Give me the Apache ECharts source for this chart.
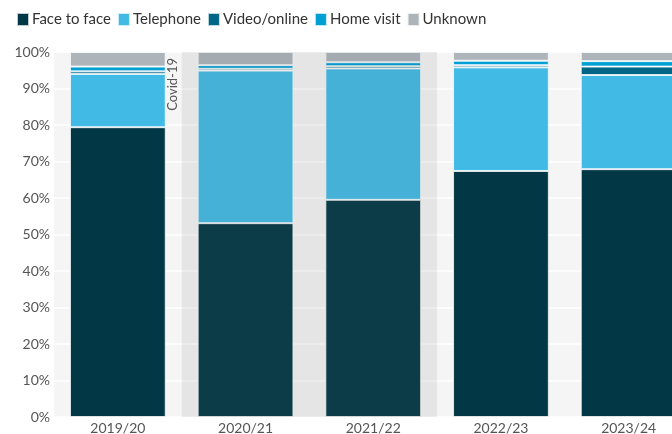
<!DOCTYPE html>
<html><head><meta charset="utf-8">
<script src="https://cdn.jsdelivr.net/npm/echarts@6/dist/echarts.min.js"></script>
<style>html,body{margin:0;padding:0;background:#fff}#c{width:672px;height:434px}</style>
</head><body><div id="c"></div>
<script>
const categories = ['2019/20','2020/21','2021/22','2022/23','2023/24'];
const faceToFace = [79.4, 53.1, 59.5, 67.4, 67.9];
const telephone  = [14.6, 41.8, 36.0, 28.4, 25.8];
const videoOnline= [0.7, 0.5, 0.6, 0.6, 2.3];
const homeVisit  = [1.3, 1.0, 1.1, 1.2, 1.5];
const unknown    = [4.0, 3.6, 2.8, 2.4, 2.5];
const yTicks = [0,10,20,30,40,50,60,70,80,90,100];
const covidBand = [1, 3];
const covidLabel = 'Covid-19';

const names = ['Face to face','Telephone','Video/online','Home visit','Unknown'];
const colors = ['#023745','#41bbe6','#006687','#009fd4','#adb5bb'];
const values = [faceToFace, telephone, videoOnline, homeVisit, unknown];
const FONT = 'Lato';

const barSeries = names.map((n,i)=>({
  name:n, type:'bar', stack:'total', barCategoryGap:'25%',
  data: values[i], z: 2,
  itemStyle:{color:colors[i], borderColor:'rgba(255,255,255,0.75)', borderWidth:1},
  emphasis:{disabled:true}
}));

const chart = echarts.init(document.getElementById('c'), null, {renderer:'canvas'});
chart.setOption({
  animation:false,
  color: colors,
  legend:{
    left:11, top:7, itemWidth:12, itemHeight:13, itemGap:6,
    icon:'rect', data:names,
    textStyle:{fontFamily:FONT, fontSize:15, color:'#333', padding:[0,0,0,-2]}
  },
  grid:{left:54, top:52, bottom:17, width:638.5, outerBoundsMode:'none', containLabel:false,
    show:true, backgroundColor:'#f5f5f5', borderWidth:0},
  xAxis:[{
    type:'category', data:categories,
    axisLine:{show:false}, axisTick:{show:false},
    axisLabel:{fontFamily:FONT, fontSize:14, color:'#555', margin:4}
  },{
    type:'value', min:0, max:categories.length, show:false
  }],
  yAxis:{
    type:'value', min:yTicks[0], max:yTicks[yTicks.length-1], interval:10,
    axisLine:{show:false}, axisTick:{show:false},
    splitLine:{lineStyle:{color:'#ffffff', width:1.5}},
    axisLabel:{fontFamily:FONT, fontSize:14, color:'#555', margin:4, formatter:'{value}%'}
  },
  series: barSeries.concat([{
    name:'covid', type:'line', xAxisIndex:1, data:[], z:10, silent:true,
    markArea:{
      silent:true, z:10,
      itemStyle:{color:'rgba(107,107,107,0.114)'},
      label:{show:true, position:[-2,6], rotate:90, align:'right', verticalAlign:'bottom',
        fontFamily:FONT, fontSize:13, color:'#555', formatter:covidLabel},
      data:[[{xAxis:covidBand[0]},{xAxis:covidBand[1]}]]
    }
  }])
});
</script></body></html>
